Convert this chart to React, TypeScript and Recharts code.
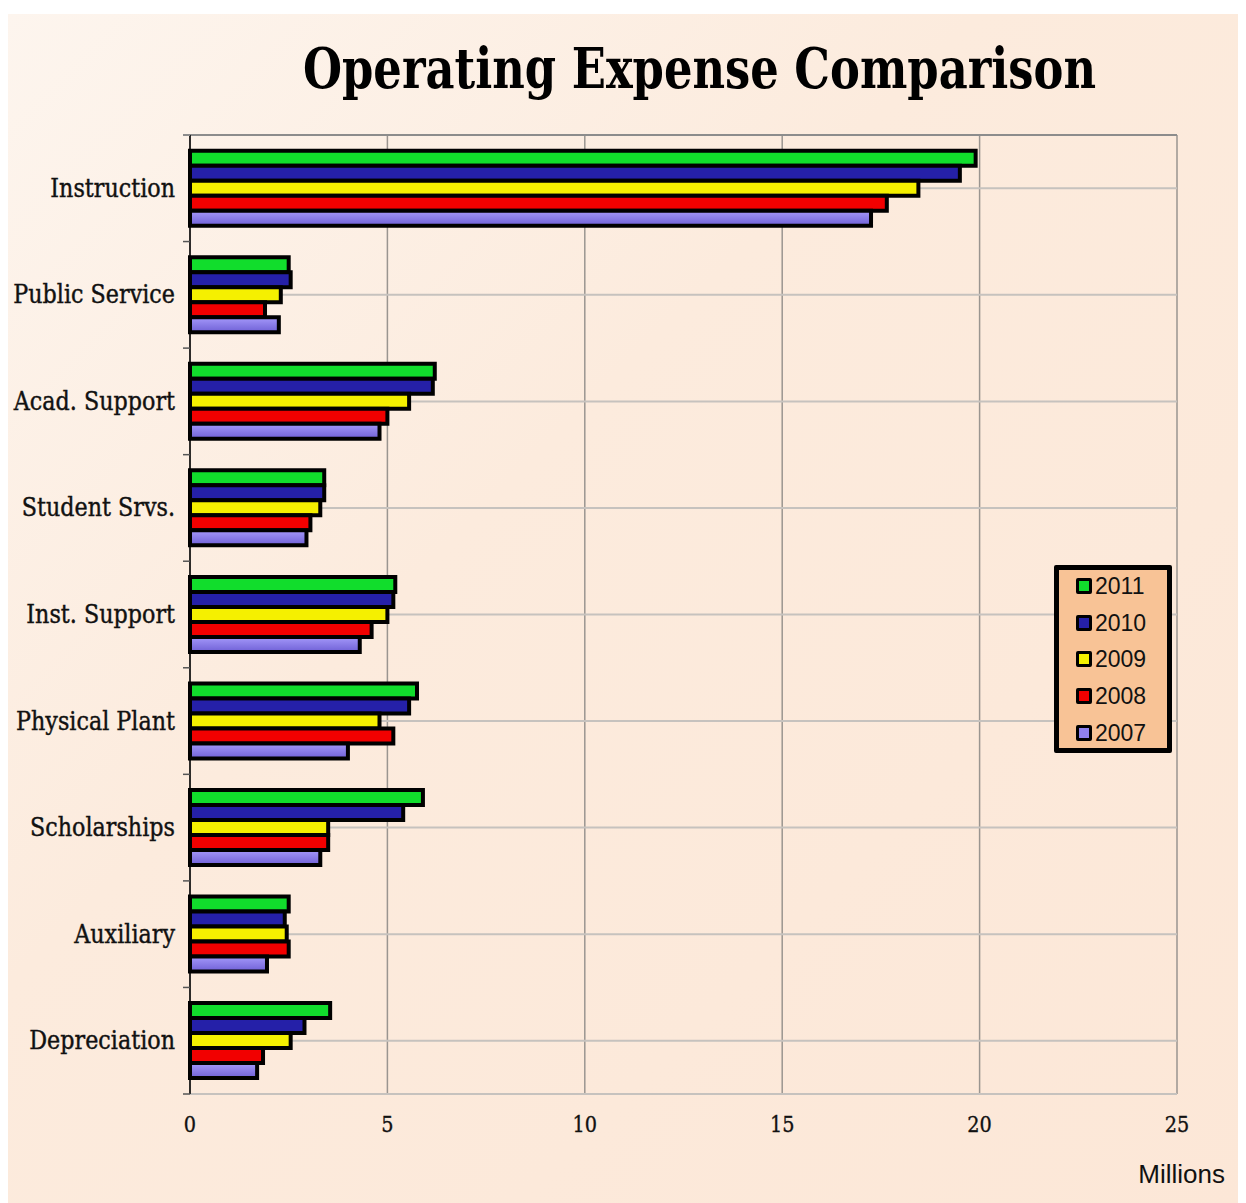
import React, { useLayoutEffect, useRef, useState } from 'react';
import { BarChart, Bar, XAxis, YAxis, CartesianGrid, Legend } from 'recharts';

const categories = [
  'Instruction',
  'Public Service',
  'Acad. Support',
  'Student Srvs.',
  'Inst. Support',
  'Physical Plant',
  'Scholarships',
  'Auxiliary',
  'Depreciation',
];
const v2011 = [19.9, 2.5, 6.2, 3.4, 5.2, 5.75, 5.9, 2.5, 3.55];
const v2010 = [19.5, 2.55, 6.15, 3.4, 5.15, 5.55, 5.4, 2.4, 2.9];
const v2009 = [18.45, 2.3, 5.55, 3.3, 5.0, 4.8, 3.5, 2.45, 2.55];
const v2008 = [17.65, 1.9, 5.0, 3.05, 4.6, 5.15, 3.5, 2.5, 1.85];
const v2007 = [17.25, 2.25, 4.8, 2.95, 4.3, 4.0, 3.3, 1.95, 1.7];
const xTicks = [0, 5, 10, 15, 20, 25];
const seriesKeys = ['2011', '2010', '2009', '2008', '2007'];
const seriesColors: Record<string, string> = {
  '2011': '#11dd2c',
  '2010': '#2520a8',
  '2009': '#f5f000',
  '2008': '#f20000',
  '2007': '#8f80ee',
};
const seriesFills: Record<string, string> = {
  '2011': '#11dd2c',
  '2010': '#2520a8',
  '2009': '#f5f000',
  '2008': '#f20000',
  '2007': 'url(#purpleGrad)',
};
const TITLE = 'Operating Expense Comparison';

const data = categories.map((name, i) => ({
  name,
  '2011': v2011[i],
  '2010': v2010[i],
  '2009': v2009[i],
  '2008': v2008[i],
  '2007': v2007[i],
}));

const W = 1238;
const H = 1189;
const MARGIN = { top: 111, right: 69, bottom: 69, left: 0 };
const TOP_AXIS_H = 10;
const BOTTOM_AXIS_H = 40;
const PLOT_H = H - MARGIN.top - MARGIN.bottom - TOP_AXIS_H - BOTTOM_AXIS_H;
const HALF_BAND = PLOT_H / categories.length / 2;

const YTick = (props: any) => {
  const { x, y, payload, index } = props;
  return (
    <g>
      <text
        transform={`translate(${x - 15},${y + 8.5}) scale(0.84,1)`}
        textAnchor="end"
        fontFamily="DejaVu Serif"
        fontSize={26.5}
        fill="#111"
        stroke="#111"
        strokeWidth={0.45}
      >
        {payload.value}
      </text>
      <line x1={x - 7} x2={x} y1={y + HALF_BAND} y2={y + HALF_BAND} stroke="#555" strokeWidth={1.5} />
      {index === 0 && (
        <line x1={x - 7} x2={x} y1={y - HALF_BAND} y2={y - HALF_BAND} stroke="#8c8c8c" strokeWidth={2} />
      )}
    </g>
  );
};

const XTick = (props: any) => {
  const { x, y, payload } = props;
  return (
    <text
      transform={`translate(${x},${y + 37.5}) scale(0.84,1)`}
      textAnchor="middle"
      fontFamily="DejaVu Serif"
      fontSize={23}
      fill="#111"
      stroke="#111"
      strokeWidth={0.35}
    >
      {payload.value}
    </text>
  );
};

const EmptyTick = () => <g />;

const LegendBox = (props: any) => {
  const payload = [...(props.payload || [])].sort(
    (a: any, b: any) => seriesKeys.indexOf(String(a.dataKey)) - seriesKeys.indexOf(String(b.dataKey))
  );
  return (
    <div
      style={{
        width: 118,
        height: 188,
        boxSizing: 'border-box',
        border: '5px solid #000',
        borderRadius: 2,
        background: '#f8c396',
      }}
    >
      <div style={{ position: 'relative', top: -2 }}>
        {payload.map((p: any) => (
          <div
            key={p.value}
            style={{ display: 'flex', alignItems: 'center', height: 36.6, paddingLeft: 17 }}
          >
            <span
              style={{
                display: 'inline-block',
                width: 10,
                height: 10,
                border: '3px solid #000',
                borderRadius: 2,
                background: seriesColors[p.dataKey] || p.color,
                marginRight: 3,
              }}
            />
            <span style={{ fontFamily: 'Liberation Sans', fontSize: 23, color: '#111', lineHeight: '24px' }}>
              {p.value}
            </span>
          </div>
        ))}
      </div>
    </div>
  );
};

const Title = () => {
  const ref = useRef<SVGTextElement | null>(null);
  const [sx, setSx] = useState(0.75);
  useLayoutEffect(() => {
    if (ref.current) {
      const w = ref.current.getComputedTextLength();
      if (w > 0) setSx(793 / w);
    }
  }, []);
  return (
    <svg width={W} height={120} style={{ position: 'absolute', left: 0, top: 0 }}>
      <text
        ref={ref}
        transform={`translate(691.5,73.5) scale(${sx},1)`}
        textAnchor="middle"
        fontFamily="DejaVu Serif"
        fontWeight="bold"
        fontSize={56}
        fill="#000"
      >
        {TITLE}
      </text>
    </svg>
  );
};

export default function App() {
  return (
    <div style={{ paddingTop: 6 }}>
      <div
        style={{
          position: 'relative',
          width: W,
          height: H,
          background: 'linear-gradient(135deg, #fdf5ee 0%, #fcebdd 40%, #fce7d7 100%)',
        }}
      >
        <Title />
        <div style={{ position: 'absolute', left: 0, top: 0 }}>
          <BarChart
            width={W}
            height={H}
            data={data}
            layout="vertical"
            margin={MARGIN}
            barCategoryGap="14.7%"
            barGap={0}
          >
            <defs>
              <linearGradient id="purpleGrad" x1="0" y1="0" x2="0" y2="1">
                <stop offset="0%" stopColor="#a599fa" />
                <stop offset="100%" stopColor="#6f60d6" />
              </linearGradient>
            </defs>
            <CartesianGrid horizontal={false} vertical={true} stroke="#9a9590" strokeWidth={1.5} />
            <CartesianGrid horizontal={true} vertical={false} stroke="#c6c2be" strokeWidth={2} />
            <XAxis
              type="number"
              domain={[0, 25]}
              ticks={xTicks}
              axisLine={false}
              tickLine={false}
              tickSize={0}
              tickMargin={0}
              height={BOTTOM_AXIS_H}
              tick={XTick}
              interval={0}
            />
            <XAxis
              xAxisId="top"
              orientation="top"
              type="number"
              domain={[0, 25]}
              ticks={xTicks}
              height={TOP_AXIS_H}
              axisLine={{ stroke: '#8c8c8c', strokeWidth: 2 }}
              tickLine={{ stroke: '#8c8c8c', strokeWidth: 1.5 }}
              tickSize={8}
              tick={EmptyTick}
              interval={0}
            />
            <YAxis
              type="category"
              dataKey="name"
              width={182}
              axisLine={{ stroke: '#000', strokeWidth: 1.5 }}
              tickLine={false}
              tickSize={0}
              tickMargin={0}
              tick={YTick}
              interval={0}
            />
            <Legend
              layout="vertical"
              align="center"
              verticalAlign="middle"
              itemSorter={null as any}
              content={LegendBox}
              wrapperStyle={{ position: 'absolute', left: 1046, top: 551, width: 118, height: 188 }}
            />
            {seriesKeys.map((k) => (
              <Bar
                key={k}
                dataKey={k}
                name={k}
                fill={seriesFills[k]}
                stroke="#000"
                strokeWidth={4}
                isAnimationActive={false}
              />
            ))}
          </BarChart>
        </div>
        <svg width={W} height={H} style={{ position: 'absolute', left: 0, top: 0, pointerEvents: 'none' }}>
          <text x={1217} y={1169} textAnchor="end" fontFamily="Liberation Sans" fontSize={26} fill="#111">
            Millions
          </text>
        </svg>
      </div>
    </div>
  );
}
